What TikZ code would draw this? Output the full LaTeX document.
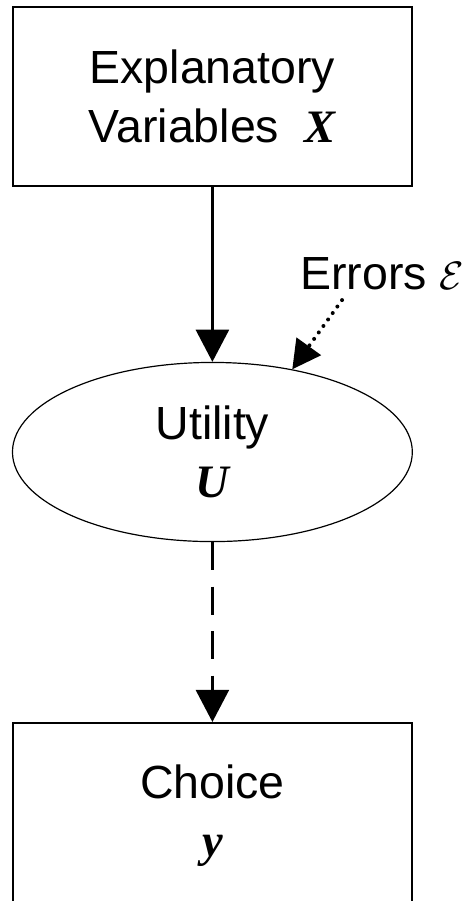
\documentclass[tikz,border=0pt]{standalone}
\usepackage{fontspec}
\setmainfont{Liberation Sans}
\newfontfamily\timesfont{Liberation Serif}
\newcommand{\varbi}[1]{{\timesfont\bfseries\itshape #1}}
\usetikzlibrary{arrows.meta,shapes.geometric}

\begin{document}
\begin{tikzpicture}[font=\fontsize{35}{44}\selectfont]
        \tikzset{
            rumbox/.style={
                draw=black,
                line width=1.5pt,
                minimum width=10.56cm,
                minimum height=4.74cm,
                inner sep=0pt,
                align=center
            },
            rumutil/.style={
                ellipse,
                draw=black,
                line width=0.9pt,
                minimum width=10.58cm,
                minimum height=4.74cm,
                inner sep=0pt,
                align=center
            },
            rumsolid/.style={
                -{Triangle[length=8.5mm,width=8.7mm]},
                draw=black,
                line width=2.2pt
            },
            rumdashed/.style={
                rumsolid,
                dash pattern=on 21pt off 12.5pt
            },
            rumdotted/.style={
                -{Triangle[length=7.5mm,width=7.8mm]},
                draw=black,
                line width=3pt,
                line cap=round,
                dash pattern=on 0pt off 6pt
            }
        }
        \useasboundingbox (0,0) rectangle (12.22,-23.84);

        \node[rumbox] (explvars) at (5.62,-2.55)
            {Explanatory\\Variables~~\varbi{X}};
        \node[rumutil] (utility) at (5.62,-11.96)
            {Utility\\\varbi{U}};
        \node[rumbox, minimum height=4.9cm] (choice) at (5.62,-21.58)
            {Choice\\\varbi{y}};

        \node[anchor=base west, inner sep=0pt] (errors) at (7.94,-7.67)
            {Errors~\scalebox{1.2}{$\mathcal{E}$}};
        \coordinate (errtail) at (9.05,-7.94);

        \draw[rumsolid] (explvars.south) -- (utility.north);
        \draw[rumdotted] (errtail) -- (utility.46);
        \draw[rumdashed] (utility.south) -- (choice.north);
    \end{tikzpicture}
\end{document}
